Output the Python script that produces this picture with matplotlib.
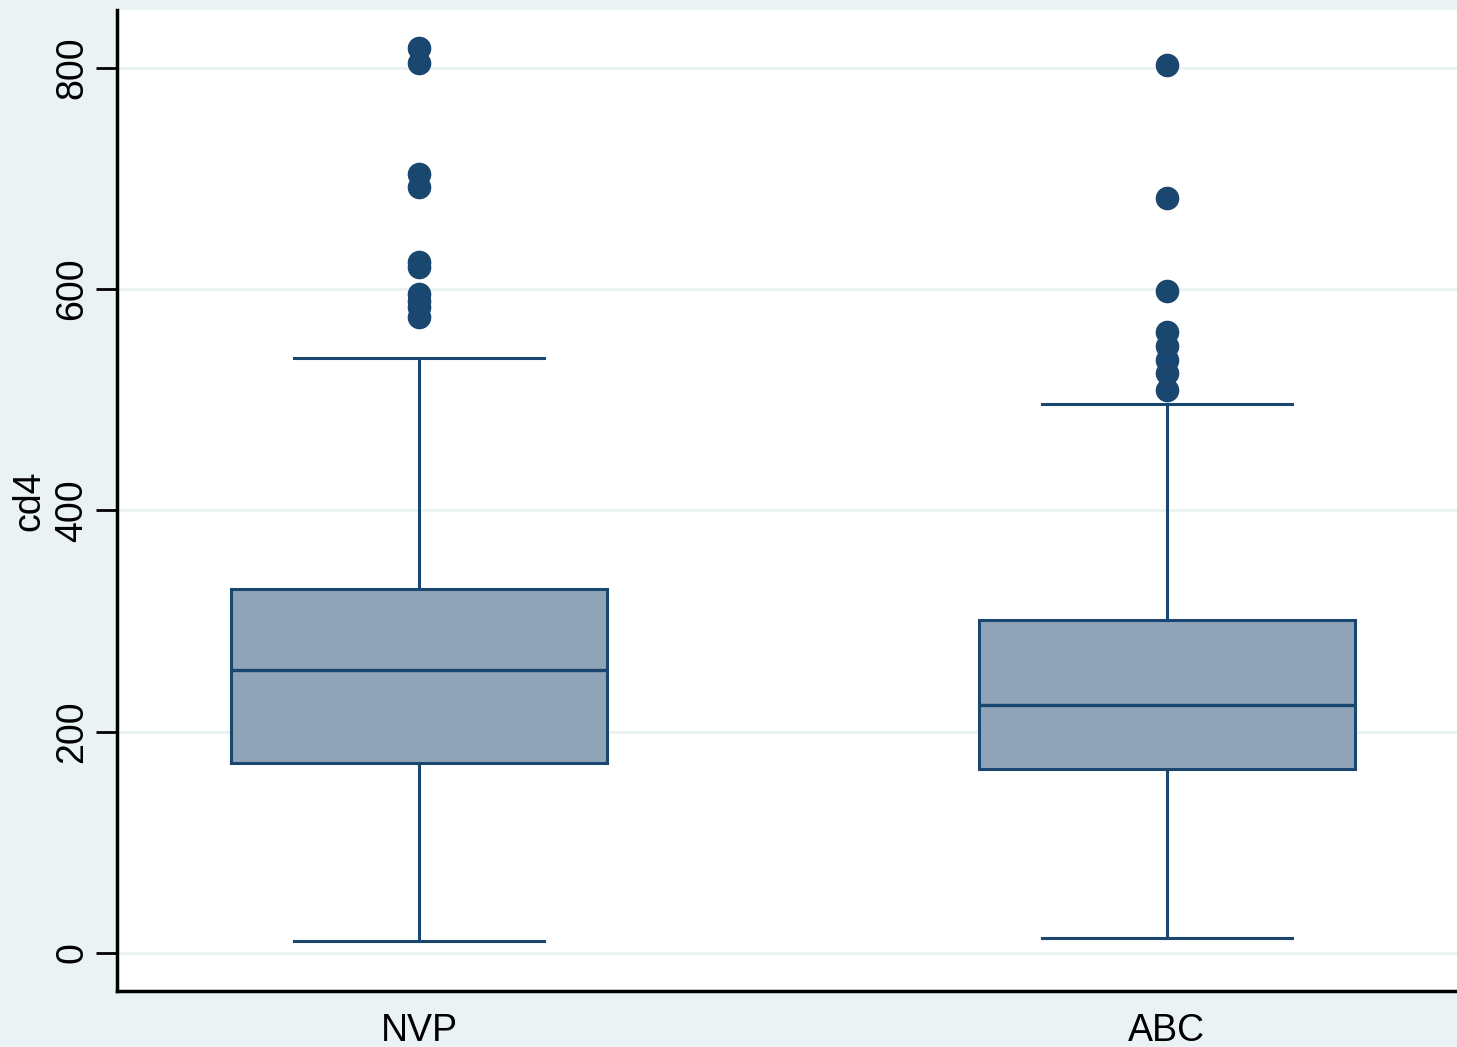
import matplotlib.pyplot as plt

# Values (cd4 by group)
groups = ["NVP", "ABC"]
q1 = [172, 166]
medians = [256, 224]
q3 = [329, 301]
whisker_low = [11, 14]
whisker_high = [538, 496]
outliers_nvp = [818, 804, 704, 692, 624, 620, 595, 589, 584, 575]
outliers_abc = [802, 682, 598, 561, 548, 536, 524, 509]
yticks = [0, 200, 400, 600, 800]

navy = "#1A476F"
box_fill = "#90A4B8"
bg = "#EAF2F3"

plt.rcParams["font.family"] = ["Liberation Sans", "DejaVu Sans"]

fig = plt.figure(figsize=(14.57, 10.47), dpi=100, facecolor=bg)
ax = fig.add_axes([117 / 1457, 56 / 1047, 1 - 117 / 1457, 981 / 1047])
ax.set_facecolor("white")

stats = []
for i, name in enumerate(groups):
    stats.append({
        "label": name,
        "q1": q1[i],
        "med": medians[i],
        "q3": q3[i],
        "whislo": whisker_low[i],
        "whishi": whisker_high[i],
        "fliers": [outliers_nvp, outliers_abc][i],
    })

ax.bxp(
    stats,
    positions=[1, 2],
    widths=0.503,
    patch_artist=True,
    showfliers=True,
    boxprops=dict(facecolor=box_fill, edgecolor=navy, linewidth=2.2),
    medianprops=dict(color=navy, linewidth=2.4),
    whiskerprops=dict(color=navy, linewidth=2.2),
    capprops=dict(color=navy, linewidth=2.2),
    capwidths=0.334,
    flierprops=dict(marker="o", markerfacecolor=navy, markeredgecolor=navy,
                    markersize=16, linestyle="none"),
    zorder=3,
)

ax.set_xlim(0.596, 2.388)
ax.set_ylim(-34.3, 852)
ax.set_yticks(yticks)
ax.set_yticklabels([str(t) for t in yticks], rotation=90, va="center")
ax.grid(axis="y", color=bg, linewidth=2, zorder=0)
ax.set_axisbelow(True)

for side in ["top", "right"]:
    ax.spines[side].set_visible(False)
for side in ["left", "bottom"]:
    ax.spines[side].set_linewidth(2.5)
    ax.spines[side].set_color("black")

ax.tick_params(axis="y", length=15, width=2, labelsize=27, pad=4)
ax.tick_params(axis="x", length=0, labelsize=27, pad=16)
ax.set_ylabel("cd4", fontsize=27, labelpad=5)

fig.savefig("out.png", dpi=100, facecolor=bg)
